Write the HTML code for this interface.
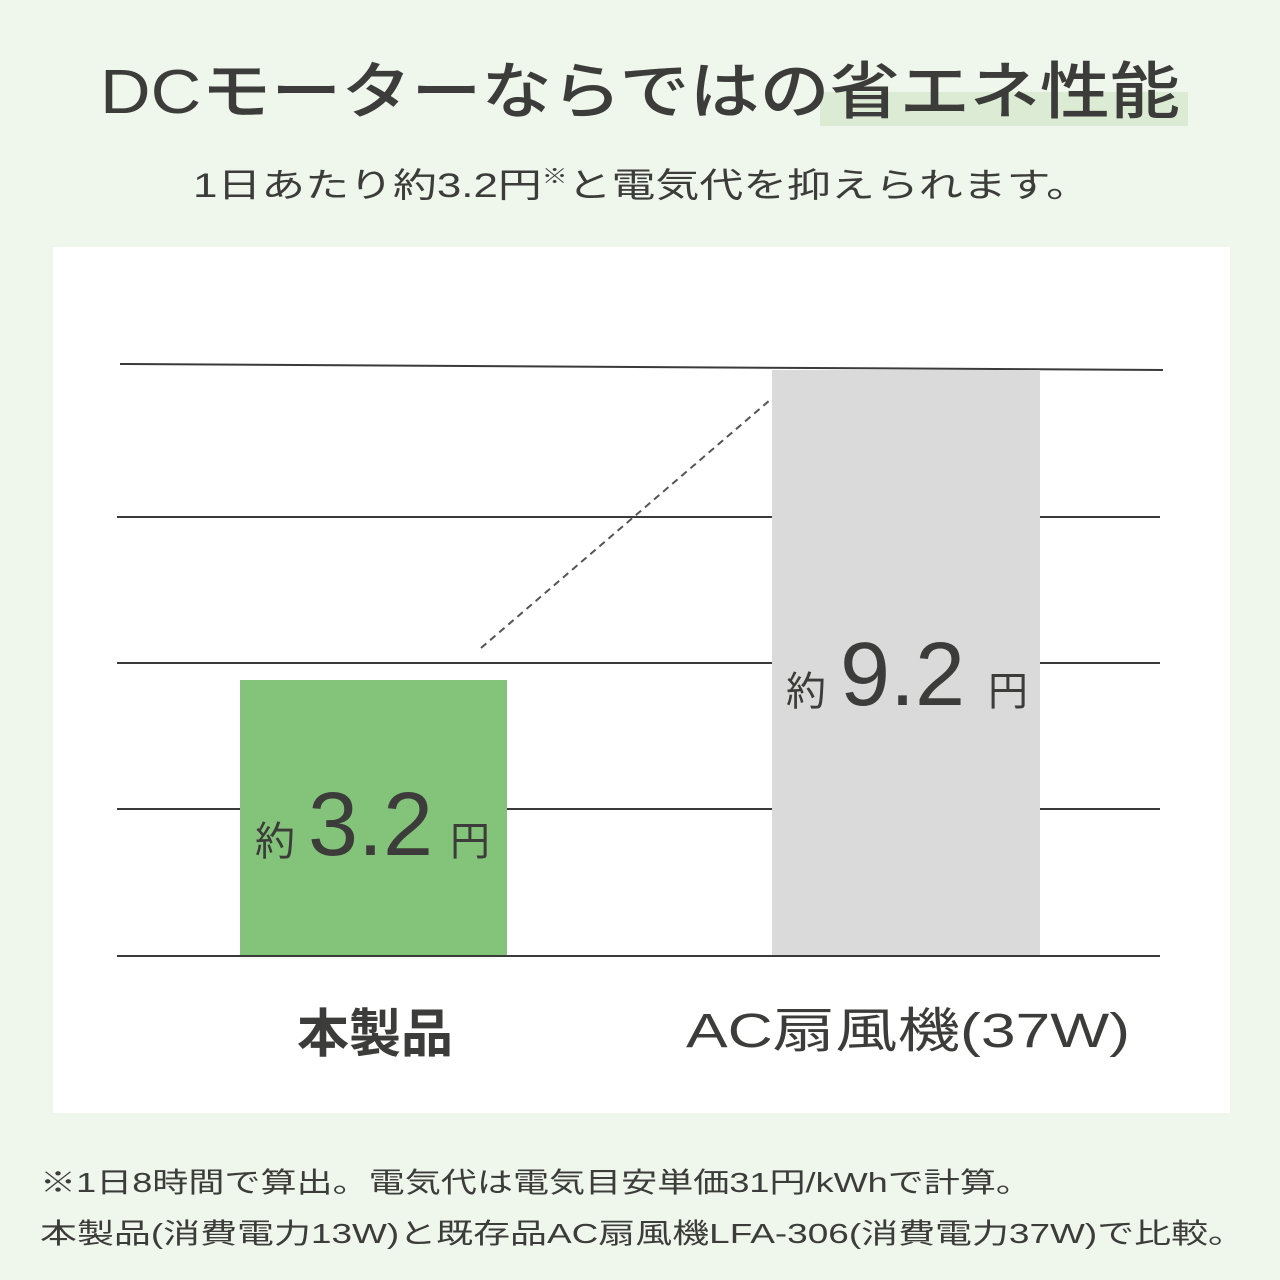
<!DOCTYPE html>
<html><head><meta charset="utf-8"><style>
body{margin:0;width:1280px;height:1280px;background:#eff6ec;overflow:hidden}
svg{display:block}
text{font-family:"Liberation Sans","Noto Sans CJK JP",sans-serif;fill:#3c3c3a}
</style></head><body>
<svg width="1280" height="1280" viewBox="0 0 1280 1280">
<rect width="1280" height="1280" fill="#eff6ec"/>
<rect x="820" y="92" width="368" height="34" fill="#dbebd4"/>
<text x="100" y="113" font-size="62" font-weight="500" textLength="1080" lengthAdjust="spacingAndGlyphs">DCモーターならではの省エネ性能</text>
<text x="193" y="197" font-size="34" textLength="897" lengthAdjust="spacingAndGlyphs" fill="#4a4a48">1日あたり約3.2円<tspan font-size="20" dy="-14">※</tspan><tspan dy="14">と電気代を抑えられます。</tspan></text>
<rect x="53" y="247" width="1177" height="866" fill="#fff"/>
<g stroke="#3a3a3a" stroke-width="2">
<line x1="120" y1="364" x2="1163" y2="370"/>
<line x1="117" y1="517" x2="1160" y2="517"/>
<line x1="117" y1="663" x2="1160" y2="663"/>
<line x1="117" y1="809" x2="1160" y2="809"/>
</g>
<rect x="240" y="680" width="267" height="276" fill="#84c47a"/>
<rect x="772" y="370" width="268" height="586" fill="#dadada"/>
<line x1="117" y1="956" x2="1160" y2="956" stroke="#3a3a3a" stroke-width="2"/>
<line x1="481" y1="648" x2="770" y2="400" stroke="#555" stroke-width="2" stroke-dasharray="7,5"/>
<text x="255" y="855" font-size="40" fill="#222">約</text>
<text x="308" y="855" font-size="90" fill="#222">3.2</text>
<text x="450" y="855" font-size="40" fill="#222">円</text>
<text x="786" y="705" font-size="40" fill="#222">約</text>
<text x="840" y="705" font-size="90" fill="#222">9.2</text>
<text x="988" y="705" font-size="40" fill="#222">円</text>
<text x="375" y="1052" font-size="52" font-weight="bold" text-anchor="middle">本製品</text>
<text x="686" y="1047" font-size="48" textLength="444" lengthAdjust="spacingAndGlyphs">AC扇風機(37W)</text>
<text x="40" y="1192" font-size="28" textLength="992" lengthAdjust="spacingAndGlyphs" fill="#444">※1日8時間で算出。電気代は電気目安単価31円/kWhで計算。</text>
<text x="40" y="1243" font-size="28" textLength="1205" lengthAdjust="spacingAndGlyphs" fill="#444">本製品(消費電力13W)と既存品AC扇風機LFA-306(消費電力37W)で比較。</text>
</svg>
</body></html>
